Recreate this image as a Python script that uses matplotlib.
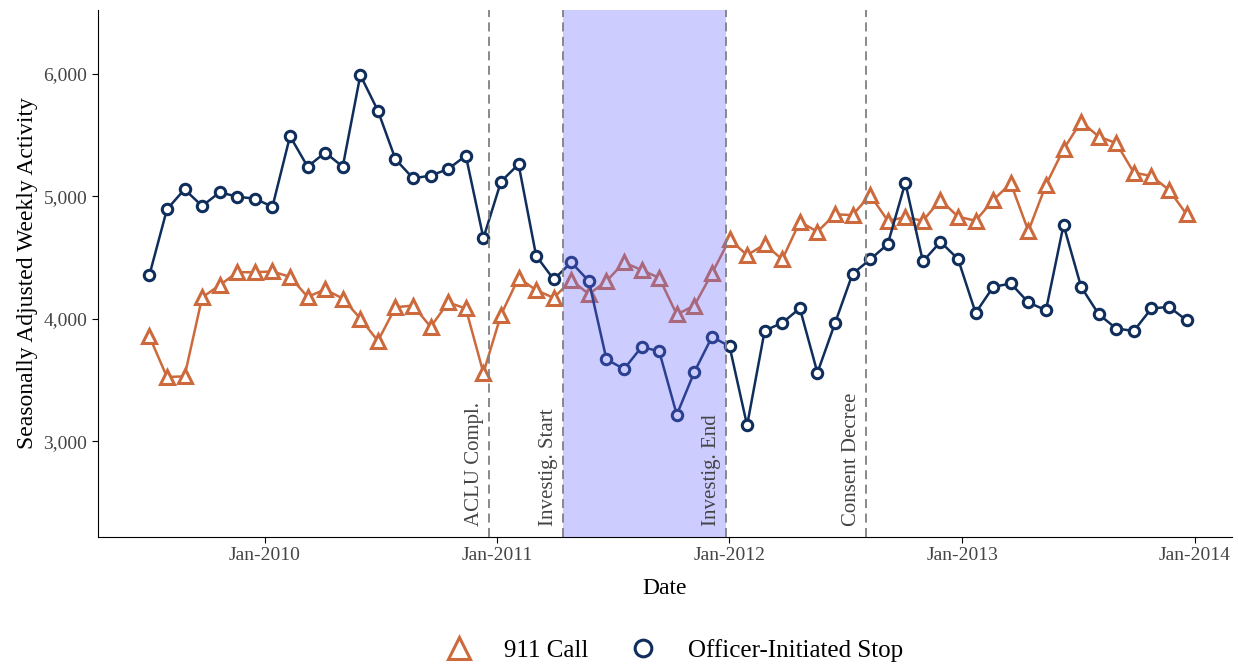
import numpy as np
import pandas as pd
import matplotlib.pyplot as plt
import matplotlib.dates as mdates

plt.rcParams['font.family'] = ['Liberation Serif', 'DejaVu Serif']

# 60 periods, evenly spaced
dates = pd.date_range('2009-07-04', '2013-12-19', periods=60)

stops = [4357, 4894, 5057, 4921, 5033, 4997, 4981, 4915, 5491, 5242,
         5357, 5242, 5989, 5698, 5302, 5147, 5169, 5223, 5332, 4659,
         5120, 5262, 4515, 4322, 4461, 4308, 3670, 3591, 3771, 3736,
         3218, 3567, 3853, 3777, 3131, 3905, 3967, 4087, 3561, 3965,
         4368, 4485, 4610, 5111, 4469, 4629, 4488, 4049, 4261, 4289,
         4134, 4071, 4766, 4261, 4038, 3921, 3902, 4085, 4098, 3989]
calls = [3858, 3526, 3531, 4175, 4275, 4381, 4381, 4387, 4343, 4180,
         4240, 4166, 4003, 3820, 4095, 4109, 3935, 4134, 4085, 3559,
         4033, 4335, 4234, 4172, 4316, 4202, 4308, 4461, 4398, 4335,
         4036, 4109, 4371, 4649, 4520, 4608, 4485, 4793, 4711, 4853,
         4847, 5011, 4801, 4829, 4801, 4970, 4834, 4801, 4970, 5106,
         4717, 5093, 5384, 5610, 5487, 5434, 5193, 5166, 5052, 4853]

events = ['ACLU Compl.', 'Investig. Start', 'Investig. End', 'Consent Decree']
event_dates = pd.to_datetime(['2010-12-20', '2011-04-14', '2011-12-26', '2012-08-02'])

orange = '#cc6a3d'
navy = '#0f2e5c'

fig = plt.figure(figsize=(12.38, 6.68), dpi=100)
ax = fig.add_axes([0.079, 0.196, 0.916, 0.789])

ax.plot(dates, calls, color=orange, lw=1.8, marker='^', ms=10, mfc='white',
        mec=orange, mew=2.2, label='911 Call', zorder=3)
ax.plot(dates, stops, color=navy, lw=1.8, marker='o', ms=7.5, mfc='white',
        mec=navy, mew=2.2, label='Officer-Initiated Stop', zorder=3)

ax.axvspan(event_dates[1], event_dates[2], color='#6666ff', alpha=0.33, lw=0, zorder=4)
for d, lab in zip(event_dates, events):
    ax.axvline(d, color='grey', ls=(0, (5, 3)), lw=1.3, zorder=5)
    ax.text(d - pd.Timedelta(days=8), 2310, lab, rotation=90, ha='right', va='bottom',
            fontsize=15, color='#444444', zorder=6)

ax.set_ylim(2220, 6520)
ax.set_xlim(pd.Timestamp('2009-04-14'), pd.Timestamp('2014-02-28'))
ax.set_yticks([3000, 4000, 5000, 6000])
ax.set_yticklabels(['3,000', '4,000', '5,000', '6,000'])
ax.xaxis.set_major_locator(mdates.YearLocator())
ax.xaxis.set_major_formatter(mdates.DateFormatter('Jan-%Y'))
ax.tick_params(labelsize=14, colors='#444444', length=4)
ax.tick_params(axis='both', color='black')
ax.spines['top'].set_visible(False)
ax.spines['right'].set_visible(False)
ax.set_xlabel('Date', fontsize=17, labelpad=10)
ax.set_ylabel('Seasonally Adjusted Weekly Activity', fontsize=17)

leg = fig.legend(loc='lower center', ncol=2, frameon=False, fontsize=18,
                 bbox_to_anchor=(0.54, -0.025), markerscale=1.6, handlelength=2,
                 columnspacing=1.2)
for h in leg.legend_handles:
    h.set_linestyle('none')

fig.savefig('out.png', dpi=100)
